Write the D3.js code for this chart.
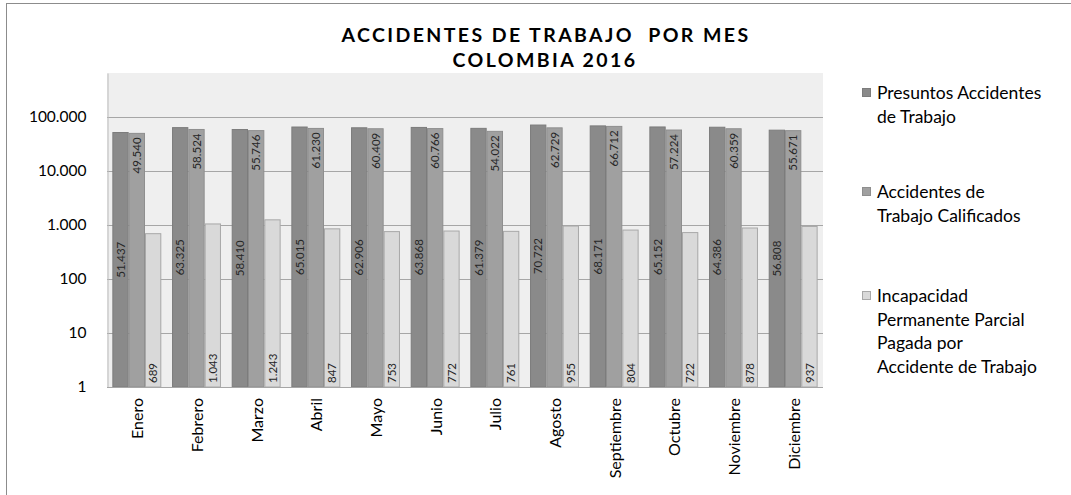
<!DOCTYPE html>
<html>
<head>
<meta charset="utf-8">
<script src="https://cdn.jsdelivr.net/npm/d3@7"></script>
<style>
  body { margin: 0; background: #fff; }
  svg { display: block; font-family: Lato, "Open Sans", sans-serif; }
  .title { white-space: pre; }
</style>
</head>
<body>
<div id="chart"></div>
<script>
// data
const months = ['Enero','Febrero','Marzo','Abril','Mayo','Junio','Julio','Agosto','Septiembre','Octubre','Noviembre','Diciembre'];
const seriesNames = ['Presuntos Accidentes de Trabajo', 'Accidentes de Trabajo Calificados', 'Incapacidad Permanente Parcial Pagada por Accidente de Trabajo'];
const presuntos = [51437, 63325, 58410, 65015, 62906, 63868, 61379, 70722, 68171, 65152, 64386, 56808];
const calificados = [49540, 58524, 55746, 61230, 60409, 60766, 54022, 62729, 66712, 57224, 60359, 55671];
const incapacidad = [689, 1043, 1243, 847, 753, 772, 761, 955, 804, 722, 878, 937];
const yTicks = [1, 10, 100, 1000, 10000, 100000];

const legendLines = [
  ['Presuntos Accidentes', 'de Trabajo'],
  ['Accidentes de', 'Trabajo Calificados'],
  ['Incapacidad', 'Permanente Parcial', 'Pagada por', 'Accidente de Trabajo']
];

const width = 1071, height = 495;
const plot = {left: 107, right: 823, top: 73, bottom: 387};
const fills = ['#8a8a8a', '#a0a0a0', '#d9d9d9'];
const strokes = ['#7c7c7c', '#8e8e8e', '#a8a8a8'];

// thousands with a dot
const fmt = v => d3.format(',')(v).replace(/,/g, '.');

const svg = d3.select('#chart').append('svg')
    .attr('width', width).attr('height', height);

// chart border (runs off the right/bottom edge in the original)
svg.append('rect')
    .attr('x', 6.5).attr('y', 3.5)
    .attr('width', width).attr('height', height)
    .attr('fill', 'none').attr('stroke', '#8c8c8c');

// title
const title = svg.append('text')
    .attr('class', 'title')
    .attr('text-anchor', 'middle')
    .attr('font-weight', 'bold')
    .attr('font-size', 19.5)
    .attr('letter-spacing', 2.4)
    .attr('fill', '#000');
title.append('tspan').attr('x', 546).attr('y', 42).text('ACCIDENTES DE TRABAJO  POR MES');
title.append('tspan').attr('x', 545).attr('y', 67).text('COLOMBIA 2016');

// plot background
svg.append('rect')
    .attr('x', plot.left).attr('y', plot.top)
    .attr('width', plot.right - plot.left).attr('height', plot.bottom - plot.top)
    .attr('fill', '#efefef');

const x0 = d3.scaleBand().domain(months)
    .range([plot.left, plot.right])
    .paddingInner(0.18).paddingOuter(0.09);

const x1 = d3.scaleBand().domain([0, 1, 2])
    .range([0, x0.bandwidth()]);

const y = d3.scaleLog().domain([1, 650000])
    .range([plot.bottom, plot.top]);

// gridlines
svg.append('g').selectAll('line')
    .data(yTicks.slice(1))
    .join('line')
    .attr('x1', plot.left).attr('x2', plot.right)
    .attr('y1', d => Math.round(y(d)) + 0.5).attr('y2', d => Math.round(y(d)) + 0.5)
    .attr('stroke', '#a6a6a6');

// y axis
const yAxis = svg.append('g')
    .attr('transform', `translate(${plot.left + 0.5},0)`)
    .call(d3.axisLeft(y).tickValues(yTicks).tickFormat(fmt).tickSize(0).tickPadding(21));
yAxis.select('.domain').attr('stroke', '#bcbcbc');
yAxis.selectAll('text').attr('font-size', 15.5).attr('fill', '#000')
    .attr('font-family', 'Lato, sans-serif');

// bars
const rows = months.map((m, i) => ({month: m, vals: [presuntos[i], calificados[i], incapacidad[i]]}));

const groups = svg.append('g').selectAll('g')
    .data(rows)
    .join('g')
    .attr('transform', d => `translate(${x0(d.month)},0)`);

groups.selectAll('rect')
    .data(d => d.vals.map((v, k) => ({v, k})))
    .join('rect')
    .attr('x', d => x1(d.k) + 0.5)
    .attr('width', x1.bandwidth() - 1)
    .attr('y', d => y(d.v))
    .attr('height', d => y(1) - y(d.v))
    .attr('fill', d => fills[d.k])
    .attr('stroke', d => strokes[d.k]);

// value labels: series 1 centred, series 2 inside end, series 3 inside base
groups.selectAll('text')
    .data(d => d.vals.map((v, k) => ({v, k})))
    .join('text')
    .attr('transform', d => {
      const cx = x1(d.k) + x1.bandwidth() / 2;
      let cy;
      if (d.k === 0) cy = (y(d.v) + y(1)) / 2;
      else if (d.k === 1) cy = y(d.v) + 4;
      else cy = y(1) - 4;
      return `translate(${cx},${cy}) rotate(-90)`;
    })
    .attr('text-anchor', d => d.k === 0 ? 'middle' : (d.k === 1 ? 'end' : 'start'))
    .attr('dy', '0.35em')
    .attr('font-size', 11.5)
    .attr('fill', '#262626')
    .text(d => fmt(d.v));

// x axis
svg.append('line')
    .attr('x1', plot.left).attr('x2', plot.right)
    .attr('y1', plot.bottom + 0.5).attr('y2', plot.bottom + 0.5)
    .attr('stroke', '#a6a6a6');

svg.append('g').selectAll('text')
    .data(months)
    .join('text')
    .attr('transform', d => `translate(${x0(d) + x0.bandwidth() / 2 + 1},${plot.bottom + 11}) rotate(-90)`)
    .attr('text-anchor', 'end')
    .attr('dy', '0.35em')
    .attr('font-size', 16)
    .attr('fill', '#000')
    .text(d => d);

// legend
const legendTop = [93, 192, 296];
const legend = svg.append('g');
legendLines.forEach((lines, k) => {
  legend.append('rect')
      .attr('x', 862.5).attr('y', legendTop[k] - 4.5)
      .attr('width', 8).attr('height', 8)
      .attr('fill', fills[k]).attr('stroke', strokes[k]);
  const t = legend.append('text')
      .attr('font-size', 17.5)
      .attr('fill', '#000');
  lines.forEach((line, j) => {
    t.append('tspan')
        .attr('x', 877)
        .attr('y', legendTop[k] + 6 + j * 23.5)
        .text(line);
  });
});
</script>
</body>
</html>
